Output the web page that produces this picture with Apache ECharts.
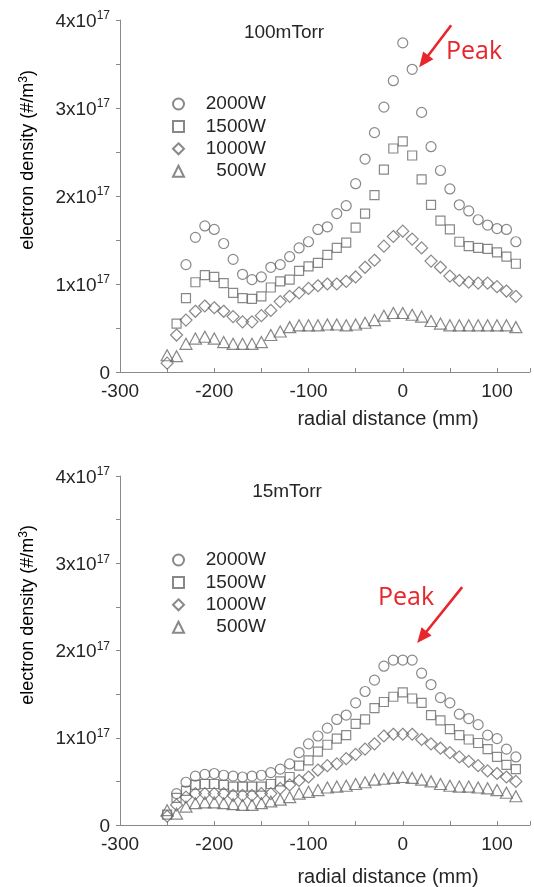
<!DOCTYPE html>
<html><head><meta charset="utf-8">
<script src="https://cdn.jsdelivr.net/npm/echarts@6/dist/echarts.min.js"></script>
<style>html,body{margin:0;padding:0;background:#fff}#c{width:534px;height:887px}</style>
</head><body><div id="c"></div>
<script>
const X = [-250,-240,-230,-220,-210,-200,-190,-180,-170,-160,-150,-140,-130,-120,-110,-100,-90,-80,-70,-60,-50,-40,-30,-20,-10,0,10,20,30,40,50,60,70,80,90,100,110,120];
const xTicks = [-300,-200,-100,0,100];
const yTicks = [0,1,2,3,4];
const seriesNames = ['2000W','1500W','1000W','500W'];
const panelTitles = ['100mTorr','15mTorr'];

// 100 mTorr (units of 1e17 #/m^3)
const top2000 = [null,null,1.22,1.53,1.66,1.62,1.46,1.28,1.11,1.05,1.08,1.19,1.22,1.31,1.41,1.48,1.62,1.65,1.80,1.89,2.14,2.42,2.72,3.01,3.31,3.74,3.44,2.95,2.56,2.29,2.08,1.90,1.83,1.73,1.67,1.63,1.62,1.48];
const top1500 = [null,0.55,0.84,1.02,1.10,1.08,1.01,0.90,0.84,0.83,0.86,0.96,1.03,1.05,1.15,1.20,1.24,1.33,1.41,1.47,1.64,1.80,2.01,2.30,2.54,2.62,2.46,2.19,1.90,1.72,1.62,1.48,1.43,1.41,1.40,1.36,1.31,1.23];
const top1000 = [0.10,0.42,0.59,0.69,0.75,0.73,0.69,0.63,0.57,0.57,0.64,0.70,0.80,0.86,0.90,0.95,0.98,1.00,1.00,1.03,1.08,1.19,1.27,1.43,1.54,1.60,1.51,1.41,1.26,1.19,1.09,1.04,1.02,1.01,1.01,0.97,0.92,0.86];
const top500  = [0.19,0.18,0.32,0.38,0.40,0.38,0.34,0.32,0.32,0.32,0.34,0.42,0.46,0.51,0.53,0.53,0.53,0.54,0.54,0.53,0.54,0.56,0.59,0.64,0.67,0.67,0.65,0.63,0.58,0.55,0.53,0.53,0.53,0.53,0.53,0.53,0.53,0.51];
// 15 mTorr
const bot2000 = [null,0.36,0.49,0.56,0.58,0.59,0.57,0.56,0.55,0.56,0.57,0.60,0.64,0.70,0.83,0.93,1.02,1.11,1.21,1.26,1.40,1.53,1.66,1.82,1.89,1.89,1.89,1.74,1.61,1.46,1.40,1.27,1.22,1.15,1.03,0.99,0.87,0.78];
const bot1500 = [0.12,0.31,0.39,0.46,0.47,0.47,0.46,0.44,0.44,0.44,0.44,0.47,0.50,0.55,0.68,0.74,0.84,0.92,0.99,1.03,1.16,1.21,1.34,1.41,1.47,1.52,1.45,1.40,1.26,1.20,1.10,1.03,0.98,0.94,0.87,0.78,0.69,0.64];
const bot1000 = [0.10,0.23,0.32,0.36,0.36,0.36,0.36,0.34,0.34,0.34,0.36,0.36,0.42,0.46,0.51,0.55,0.63,0.68,0.70,0.76,0.81,0.87,0.93,1.02,1.04,1.04,1.04,0.98,0.93,0.88,0.83,0.78,0.73,0.68,0.62,0.59,0.55,0.50];
const bot500  = [0.17,0.13,0.21,0.25,0.26,0.26,0.25,0.24,0.23,0.23,0.25,0.27,0.29,0.32,0.36,0.38,0.40,0.43,0.44,0.45,0.47,0.49,0.52,0.53,0.54,0.55,0.54,0.52,0.50,0.47,0.45,0.44,0.44,0.43,0.42,0.40,0.37,0.33];
const peakIdx = 26; // x = 10 mm

const FONT = '"Liberation Sans", Arial, sans-serif';
const GRAY = '#6a6a6a';
const TXT = '#262626';
const symbols = ['circle','rect','diamond','triangle'];
const symSizes = [10, 9, [12,12], [12,11]];

function pairs(vals){ const out=[]; vals.forEach((v,i)=>{ if(v!==null) out.push([X[i],v]); }); return out; }

const grids = [
  {left:120, top:20, width:410, height:352},
  {left:120, top:476, width:410, height:349}
];
function xAxis(gi){
  return {type:'value', gridIndex:gi, min:-300, max:135, interval:50,
    axisLine:{onZero:false, lineStyle:{color:'#8a8a8a', width:1}},
    axisTick:{inside:true, length:4, lineStyle:{color:'#8a8a8a'}},
    splitLine:{show:false},
    axisLabel:{color:TXT, fontFamily:FONT, fontSize:19, margin:10,
      formatter:v=> xTicks.indexOf(v)>=0 ? String(v) : ''}};
}
function yAxis(gi){
  return {type:'value', gridIndex:gi, min:0, max:4, interval:0.5,
    axisLine:{show:true, onZero:false, lineStyle:{color:'#8a8a8a', width:1}},
    axisTick:{show:true, length:4, lineStyle:{color:'#8a8a8a'}},
    splitLine:{show:false},
    axisLabel:{color:TXT, fontFamily:FONT, fontSize:19, margin:10,
      formatter:v=> yTicks.indexOf(v)<0 ? '' : (v===0 ? '{a|0}' : '{a|'+v+'x10}{b|17}'),
      rich:{a:{fontSize:19, fontFamily:FONT, color:TXT, verticalAlign:'bottom', lineHeight:22},
            b:{fontSize:12, fontFamily:FONT, color:TXT, verticalAlign:'bottom', lineHeight:22, padding:[0,0,9,0]}}}};
}
const allData = [[top2000,top1500,top1000,top500],[bot2000,bot1500,bot1000,bot500]];
const series = [];
allData.forEach((set,gi)=>{
  set.forEach((vals,k)=>{
    series.push({type:'scatter', name:seriesNames[k], xAxisIndex:gi, yAxisIndex:gi,
      symbol:symbols[k], symbolSize:symSizes[k], data:pairs(vals),
      itemStyle:{color:'rgba(255,255,255,0)', borderColor:GRAY, borderWidth:1.2},
      emphasis:{disabled:true}, animation:false});
  });
});
function legend(top){
  return {orient:'vertical', left:172, top:top, padding:0, itemGap:0.4, itemWidth:11, itemHeight:11,
    selectedMode:false, data:seriesNames,
    formatter:n=>'{r|'+n+'}',
    textStyle:{color:TXT, fontFamily:FONT, fontSize:19, lineHeight:22,
      rich:{r:{width:77, align:'right', fontSize:19, fontFamily:FONT, color:TXT, lineHeight:22}}}};
}
const chart = echarts.init(document.getElementById('c'), null, {renderer:'canvas'});
const yNameRich = {a:{fontSize:18, fontFamily:FONT, color:TXT}, s:{fontSize:12, fontFamily:FONT, color:TXT, padding:[0,0,8,0]}};
const graphic = [
  {type:'text', x:284, y:33, style:{text:panelTitles[0], fill:TXT, font:'19px '+FONT, align:'center', verticalAlign:'middle'}},
  {type:'text', x:287, y:492, style:{text:panelTitles[1], fill:TXT, font:'19px '+FONT, align:'center', verticalAlign:'middle'}},
  {type:'text', x:388, y:419, style:{text:'radial distance (mm)', fill:TXT, font:'20px '+FONT, align:'center', verticalAlign:'middle'}},
  {type:'text', x:388, y:877, style:{text:'radial distance (mm)', fill:TXT, font:'20px '+FONT, align:'center', verticalAlign:'middle'}},
  {type:'text', x:28, y:160, rotation:Math.PI/2, style:{text:'{a|electron density (#/m}{s|3}{a|)}', rich:yNameRich, align:'center', verticalAlign:'middle'}},
  {type:'text', x:28, y:615, rotation:Math.PI/2, style:{text:'{a|electron density (#/m}{s|3}{a|)}', rich:yNameRich, align:'center', verticalAlign:'middle'}}
];
chart.setOption({
  animation:false,
  grid:grids,
  xAxis:[xAxis(0), xAxis(1)],
  yAxis:[yAxis(0), yAxis(1)],
  legend:[legend(93), legend(549)],
  series:series,
  graphic:graphic
});
// Peak annotations anchored to the peak data points
const RED = '#e8262b';
function arrow(tip, tail){
  const dx = tip[0]-tail[0], dy = tip[1]-tail[1];
  const L = Math.hypot(dx,dy), ux = dx/L, uy = dy/L;
  const hl = 15, hw = 6.5;
  const bx = tip[0]-ux*hl, by = tip[1]-uy*hl;
  return [
    {type:'line', shape:{x1:tail[0], y1:tail[1], x2:bx+ux*2, y2:by+uy*2}, style:{stroke:RED, lineWidth:2.6}},
    {type:'polygon', shape:{points:[tip,[bx-uy*hw, by+ux*hw],[bx+uy*hw, by-ux*hw]]}, style:{fill:RED}}
  ];
}
const p1 = chart.convertToPixel({gridIndex:0}, [X[peakIdx], top2000[peakIdx]]);
const p2 = chart.convertToPixel({gridIndex:1}, [X[peakIdx], bot2000[peakIdx]]);
const tip1 = [p1[0]+7, p1[1]-2], tail1 = [tip1[0]+32, tip1[1]-42];
const tip2 = [p2[0]+5, p2[1]-17], tail2 = [tip2[0]+45, tip2[1]-56];
const extra = [].concat(
  arrow(tip1, tail1), arrow(tip2, tail2),
  [{type:'text', x:474, y:52, style:{text:'Peak', fill:RED, font:'25px "Open Sans", "Liberation Sans", sans-serif', align:'center', verticalAlign:'middle'}},
   {type:'text', x:406, y:598, style:{text:'Peak', fill:RED, font:'25px "Open Sans", "Liberation Sans", sans-serif', align:'center', verticalAlign:'middle'}}]
);
chart.setOption({graphic: graphic.concat(extra)});
</script>
</body></html>
